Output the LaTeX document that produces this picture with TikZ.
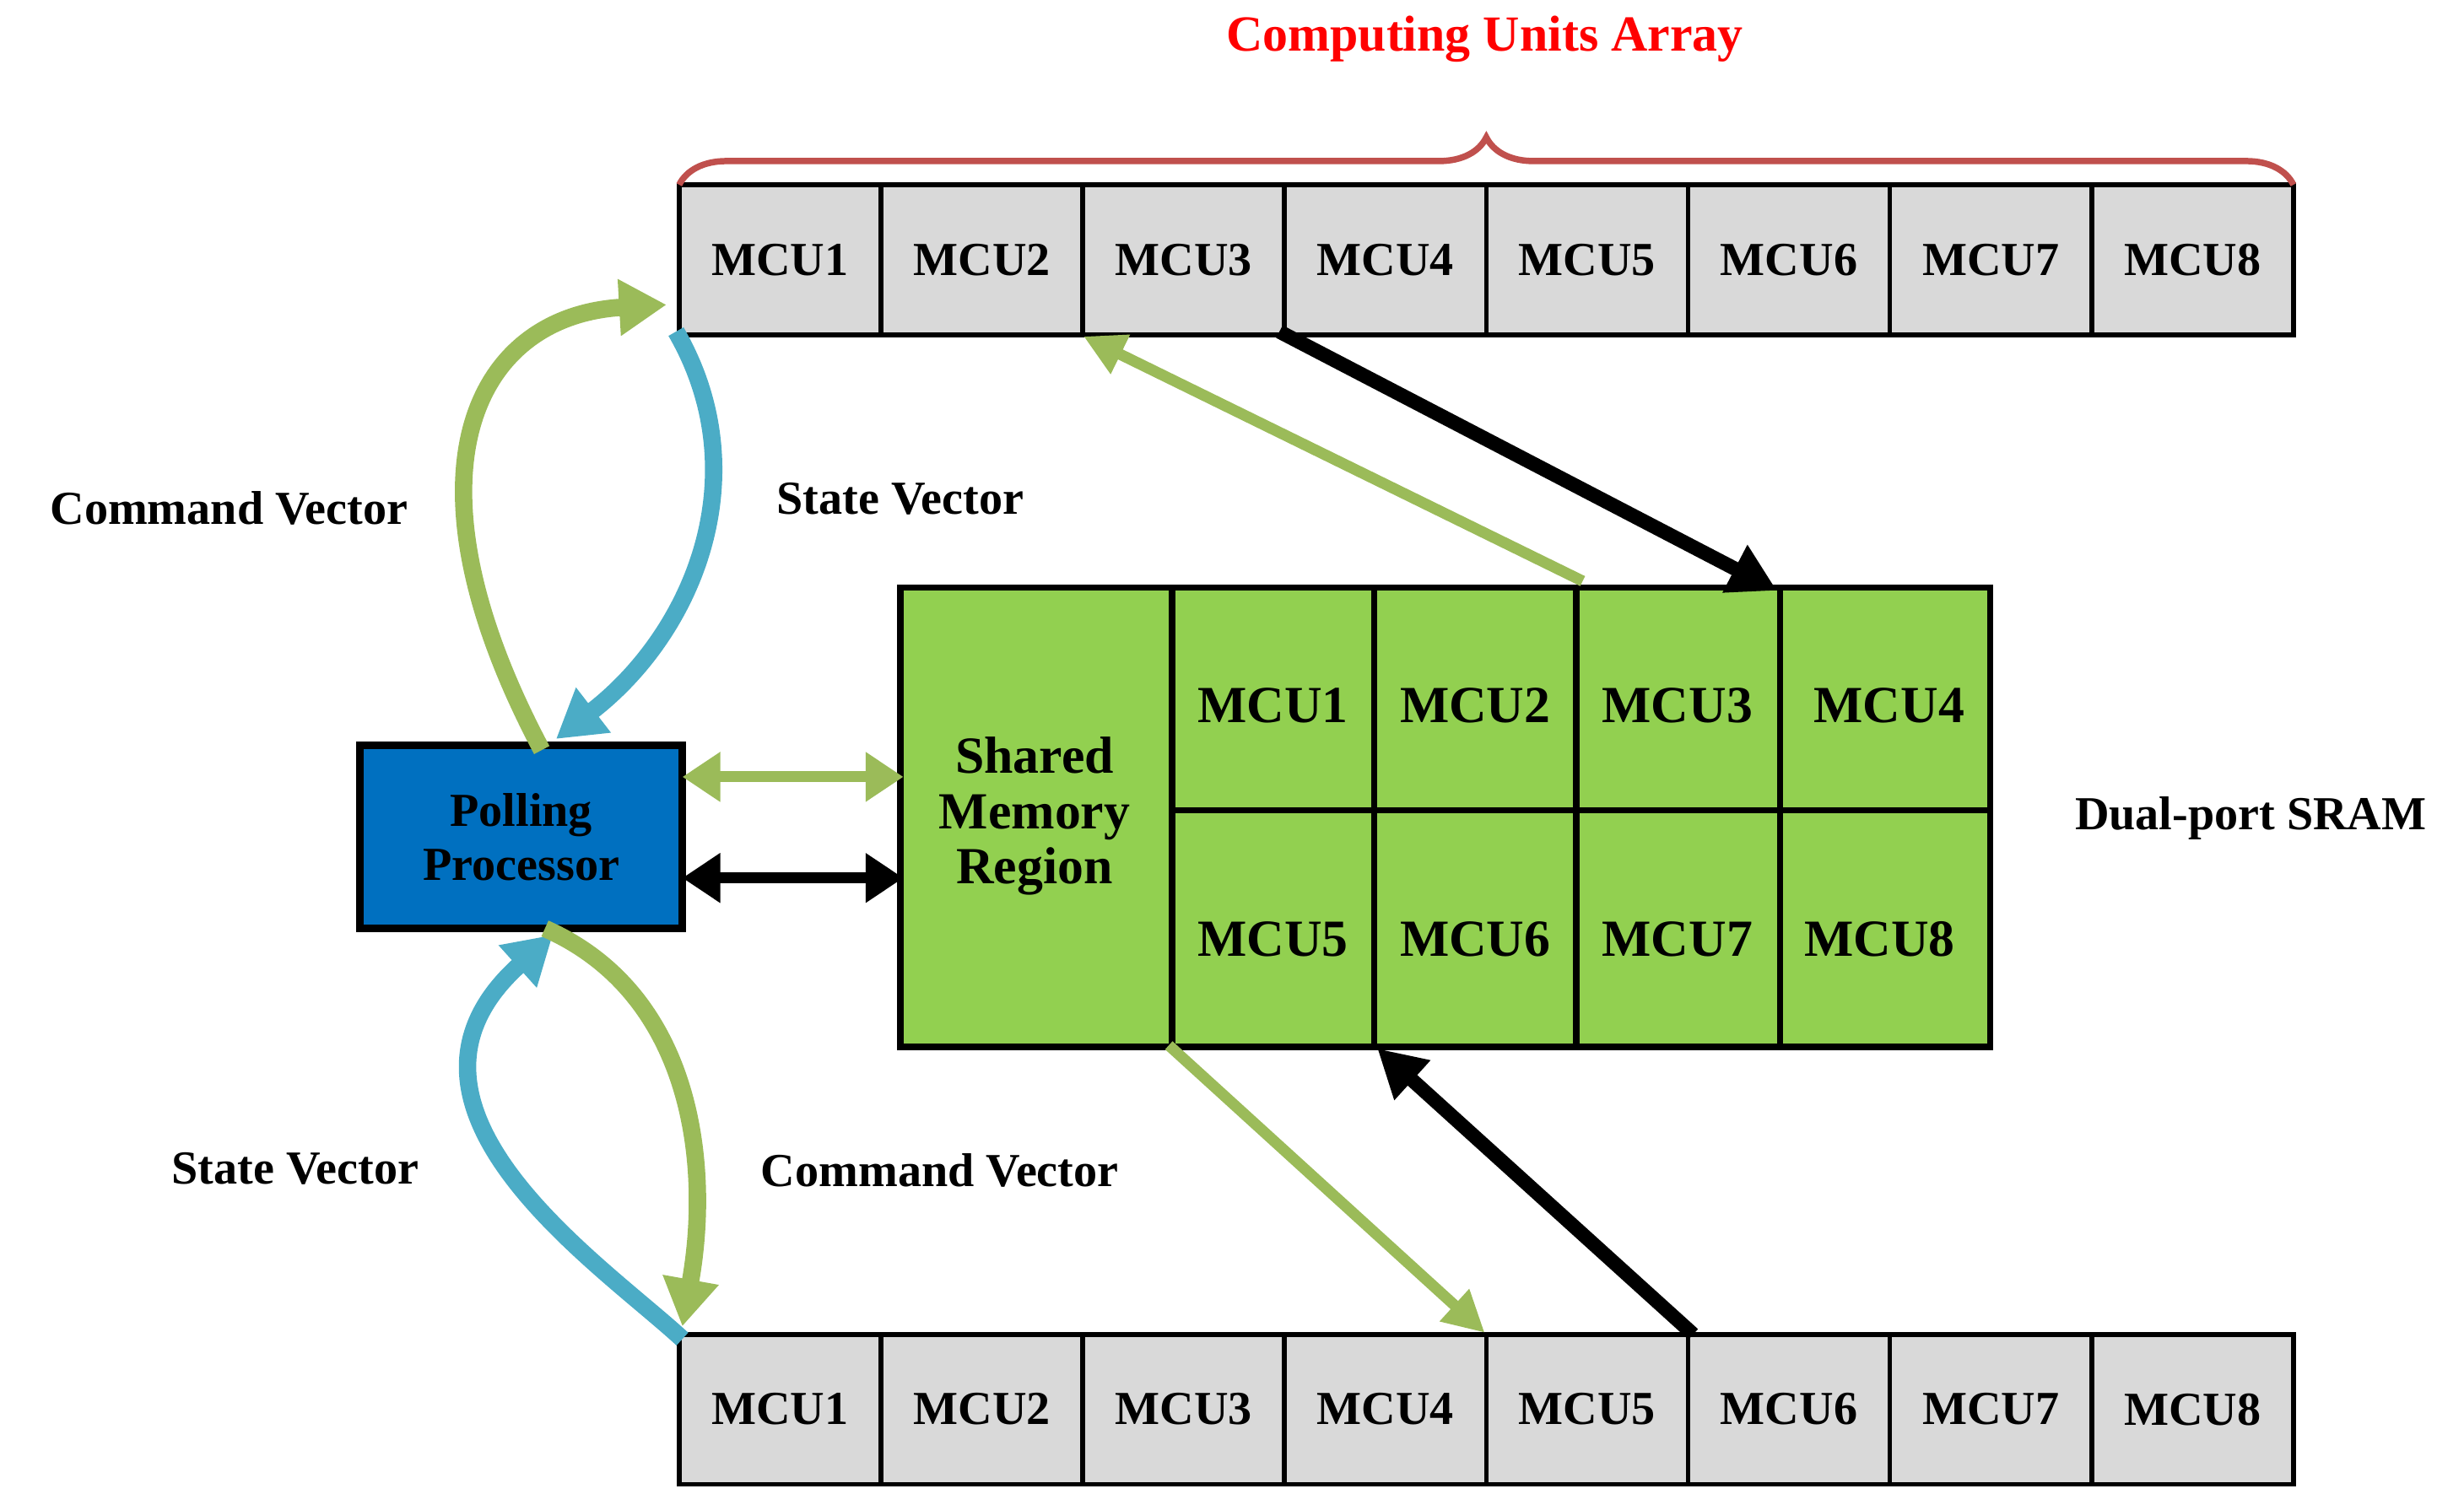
\documentclass[tikz,border=0pt]{standalone}
\usepackage{fontspec}
\setmainfont{Liberation Serif}
\usetikzlibrary{arrows.meta,decorations.pathreplacing}
\definecolor{gr}{HTML}{9BBB59}
\definecolor{bl}{HTML}{4BACC6}
\definecolor{sram}{HTML}{92D050}
\definecolor{pp}{HTML}{0070C0}
\definecolor{br}{HTML}{C0504D}
\begin{document}
\begin{tikzpicture}[x=1pt,y=-1pt,
 lbl/.style={font=\fontsize{30}{32}\selectfont\bfseries},
 cell/.style={draw=black,line width=3pt,fill=black!15,minimum width=127.75pt,minimum height=95pt,inner sep=0,font=\fontsize{30}{32}\selectfont\bfseries},
 scell/.style={inner sep=0,font=\fontsize{33}{35}\selectfont\bfseries},
 big/.style={line width=11pt,-{Triangle[length=30pt,width=34pt]}},
 thin/.style={line width=7pt,-{Triangle[length=26pt,width=26pt]}},
 dbl/.style={line width=7pt,{Triangle[length=24pt,width=30pt]}-{Triangle[length=24pt,width=30pt]}}]
\useasboundingbox (0,0) rectangle (1560,946);
% top and bottom arrays
\foreach \i in {1,...,8}{
 \node[cell] (t\i) at ({430+127.75*(\i-0.5)},164.5) {MCU\i};
 \node[cell] (b\i) at ({430+127.75*(\i-0.5)},892.5) {MCU\i};
}
\draw[br,line width=4pt,decorate,decoration={brace,amplitude=30pt}] (430,117) -- (1452,117);
\node[text=red,font=\fontsize{32}{34}\selectfont\bfseries] (title) at (940,25) {Computing Units Array};
% SRAM
\node[draw,line width=4pt,fill=sram,minimum width=690pt,minimum height=291pt,inner sep=0] (sram) at (915,517.5) {};
\draw[line width=4pt] (742,372) -- (742,663);
\draw[line width=4pt] (742,513) -- (1260,513);
\foreach \x in {870,998,1127}{\draw[line width=4pt] (\x,372) -- (\x,663);}
\node[scell,align=center] (smr) at (655,517) {Shared\\Memory\\Region};
\foreach \i/\x in {1/806,2/934,3/1062,4/1196}{\node[scell] (s\i) at (\x,447) {MCU\i};}
\foreach \i/\x in {5/806,6/934,7/1062,8/1190}{\node[scell] (s\i) at (\x,595) {MCU\i};}
\node[lbl] (dp) at (1425,518) {Dual-port SRAM};
% polling
\node[draw,line width=5pt,fill=pp,minimum width=204pt,minimum height=116pt,align=center,font=\fontsize{30}{34}\selectfont\bfseries] (pp) at (330,530) {Polling\\Processor};
% curved arrows top
\coordinate (ta) at (343,475); \coordinate (tb) at (422,193);
\draw[gr,big] (ta) .. controls (250,300) and (300,200) .. (tb);
\coordinate (tc) at (428,210); \coordinate (td) at (352,468);
\draw[bl,big] (tc) .. controls (480,300) and (440,400) .. (td);
% curved arrows bottom
\coordinate (ba) at (432,848); \coordinate (bb) at (350,592);
\draw[bl,big] (ba) .. controls (380,800) and (230,700) .. (bb);
\coordinate (bc) at (345,588); \coordinate (bd) at (432,840);
\draw[gr,big] (bc) .. controls (440,630) and (450,740) .. (bd);
% double arrows
\draw[gr,dbl] (432,492) -- (572,492);
\draw[black,dbl] (432,556) -- (572,556);
% diagonal arrows
\draw[gr,thin] (1002,368) -- (686,213);
\draw[black,line width=9pt,-{Triangle[length=30pt,width=32pt]}] (810,210) -- (1125,374);
\draw[gr,thin] (740,662) -- (940,844);
\draw[black,line width=9pt,-{Triangle[length=30pt,width=32pt]}] (1072,845) -- (872,664);
% labels
\node[lbl] (l1) at (145,322) {Command Vector};
\node[lbl] (l2) at (570,316) {State Vector};
\node[lbl] (l3) at (187,740) {State Vector};
\node[lbl] (l4) at (595,741) {Command Vector};
\end{tikzpicture}
\end{document}
